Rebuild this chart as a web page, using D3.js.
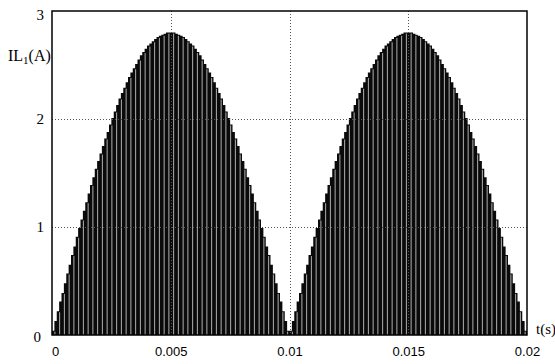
<!DOCTYPE html>
<html><head><meta charset="utf-8">
<script src="https://cdn.jsdelivr.net/npm/d3@7"></script>
<style>body{margin:0;background:#fff}</style>
</head><body>
<script>
// Time axis ticks (s)
const xTicks = [0, 0.005, 0.01, 0.015, 0.02];
const xTickLabels = ["0", "0.005", "0.01", "0.015", "0.02"];
const yTicks = [0, 1, 2, 3];
// Switching step width (s)
const stepWidth = 0.0001;
// Stepped envelope of IL1 (A) over one half cycle (0..0.01 s), one value per switching step
const halfCycle = [
  0.04,0.13,0.22,0.31,0.39,0.48,0.57,0.65,0.74,0.82,0.91,0.99,1.07,1.15,1.23,1.31,1.39,1.46,1.54,1.61,
  1.68,1.75,1.82,1.88,1.95,2.01,2.07,2.13,2.19,2.24,2.29,2.34,2.39,2.43,2.47,2.51,2.55,2.59,2.62,2.65,
  2.68,2.70,2.72,2.74,2.76,2.77,2.78,2.79,2.80,2.80,
  2.80,2.80,2.79,2.78,2.77,2.76,2.74,2.72,2.70,2.68,
  2.65,2.62,2.59,2.55,2.51,2.47,2.43,2.39,2.34,2.29,2.24,2.19,2.13,2.07,2.01,1.95,1.88,1.82,1.75,1.68,
  1.61,1.54,1.46,1.39,1.31,1.23,1.15,1.07,0.99,0.91,0.82,0.74,0.65,0.57,0.48,0.39,0.31,0.22,0.13,0.04
];
// Second half cycle repeats the first
const envelope = halfCycle.concat(halfCycle);
const stepStarts = envelope.map((d, i) => +(i * stepWidth).toFixed(5));

const W = 555, H = 364;
const m = {left: 52, right: 28, top: 11, bottom: 29};
const svg = d3.select("body").append("svg").attr("width", W).attr("height", H);

const x = d3.scaleLinear().domain([0, 0.02]).range([m.left, W - m.right]);
const y = d3.scaleLinear().domain([0, 3]).range([H - m.bottom, m.top]);

// Stepped filled current
const pts = envelope.map((d, i) => ({t: stepStarts[i], v: d}));
pts.push({t: 0.02, v: envelope[envelope.length - 1]});
const area = d3.area().x(d => x(d.t)).y0(y(0)).y1(d => y(d.v)).curve(d3.curveStepAfter);
svg.append("path").datum(pts).attr("d", area).attr("fill", "#0a0a0a");

// Thin light gaps between switching pulses
const gapIdx = envelope.map((d, i) => i).filter(i => i % 2 === 1);
svg.append("g").selectAll("line").data(gapIdx).join("line")
  .attr("x1", i => x(stepStarts[i]) + 0.5).attr("x2", i => x(stepStarts[i]) + 0.5)
  .attr("y1", y(0)).attr("y2", i => y(Math.min(envelope[i], envelope[i - 1])) + 1)
  .attr("stroke", "#fff").attr("stroke-width", 0.8).attr("stroke-opacity", 0.85);

// Grid (dotted)
const grid = svg.append("g").attr("stroke", "#555").attr("stroke-width", 1).attr("stroke-dasharray", "1,2");
grid.selectAll("line.h").data([1, 2]).join("line")
  .attr("x1", x(0)).attr("x2", x(0.02))
  .attr("y1", d => Math.round(y(d)) + 0.5).attr("y2", d => Math.round(y(d)) + 0.5);
grid.selectAll("line.v").data([0.005, 0.01, 0.015]).join("line")
  .attr("y1", y(3)).attr("y2", y(0))
  .attr("x1", d => Math.round(x(d)) + 0.5).attr("x2", d => Math.round(x(d)) + 0.5);

// Frame
svg.append("rect").attr("x", x(0)).attr("y", y(3))
  .attr("width", x(0.02) - x(0)).attr("height", y(0) - y(3))
  .attr("fill", "none").attr("stroke", "#000").attr("stroke-width", 1.5);

// Axes (labels only)
const xAxis = d3.axisBottom(x).tickValues(xTicks).tickFormat((d, i) => xTickLabels[i]).tickSize(0).tickPadding(12);
const gx = svg.append("g").attr("transform", `translate(0,${y(0)})`).call(xAxis);
gx.select(".domain").remove();
gx.selectAll("text").attr("font-family", "Liberation Sans, Arial, sans-serif").attr("font-size", 13).attr("fill", "#000");
gx.selectAll("text").filter((d, i) => i === 0).attr("dx", 3);

const yAxis = d3.axisLeft(y).tickValues(yTicks).tickFormat(d3.format("d")).tickSize(0).tickPadding(8);
const gy = svg.append("g").attr("transform", `translate(${x(0)},0)`).call(yAxis);
gy.select(".domain").remove();
gy.selectAll("text").attr("font-family", "Liberation Serif, Times New Roman, serif").attr("font-size", 15).attr("fill", "#000");
gy.selectAll("text").filter(d => d === 3).attr("dy", "0.55em");
gy.selectAll("text").filter(d => d === 0).attr("dy", "0.4em").attr("dx", -3);

// Axis titles
const yt = svg.append("text").attr("x", 8).attr("y", 61)
  .attr("font-family", "Liberation Serif, Times New Roman, serif").attr("font-size", 16).attr("fill", "#000");
yt.append("tspan").text("IL");
yt.append("tspan").attr("font-size", 11).attr("dy", 3).text("1");
yt.append("tspan").attr("dy", -3).text("(A)");

svg.append("text").attr("x", 536).attr("y", 334)
  .attr("font-family", "Liberation Serif, Times New Roman, serif").attr("font-size", 15).attr("fill", "#000")
  .text("t(s)");
</script>
</body></html>
